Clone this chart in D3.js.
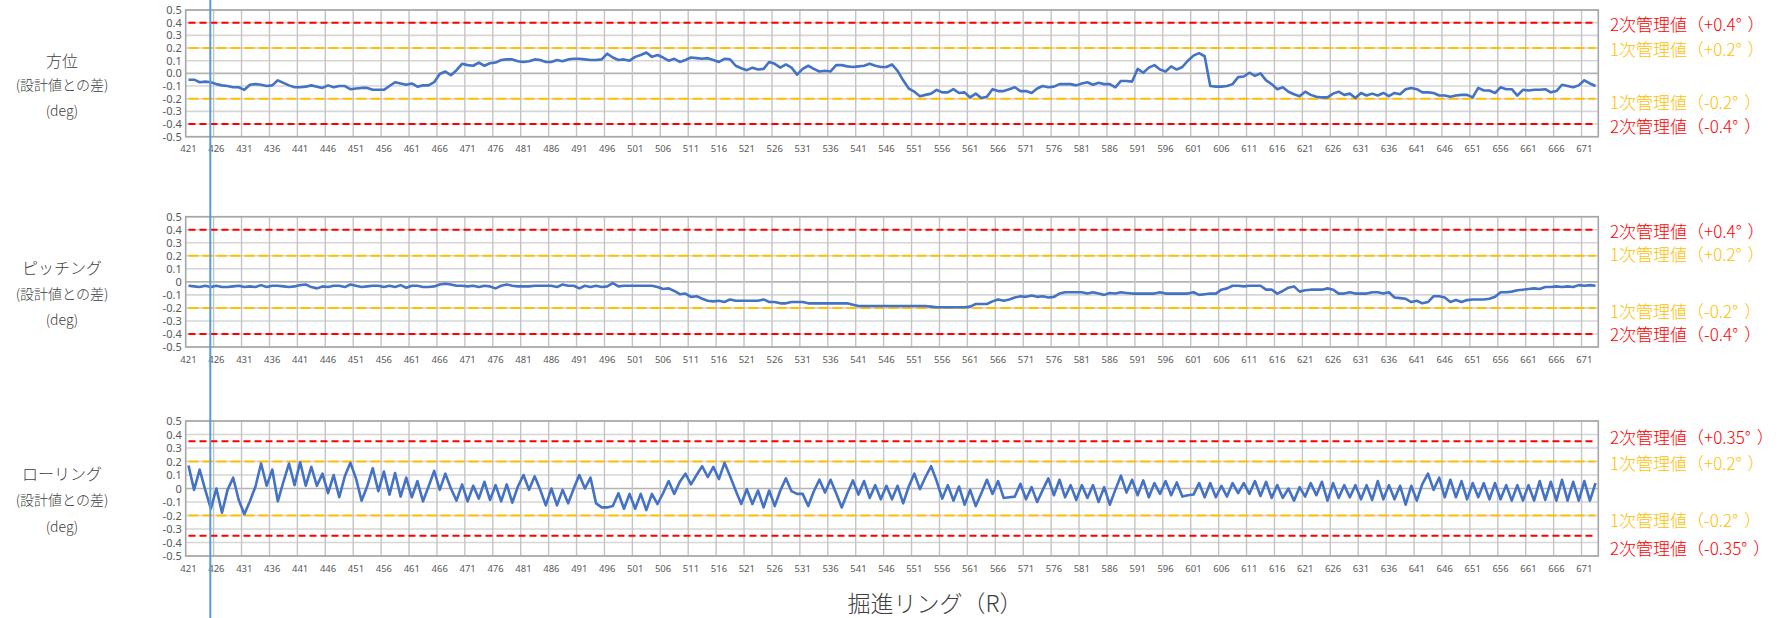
<!DOCTYPE html>
<html>
<head>
<meta charset="utf-8">
<script src="https://cdn.jsdelivr.net/npm/d3@7"></script>
<style>
  body { margin: 0; background: #fff; }
  svg { display: block; }
</style>
</head>
<body>
<div id="chart"></div>
<script>
// rings on the category axis
var rings = d3.range(421, 674);
var tickRings = rings.filter(function (r) { return (r - 421) % 5 === 0; });
var yTicks = [0.5, 0.4, 0.3, 0.2, 0.1, 0, -0.1, -0.2, -0.3, -0.4, -0.5];

// 方位
var azimuth = [
  -0.05,-0.05,-0.07,-0.065,-0.07,-0.085,-0.095,-0.10,-0.11,-0.11,
  -0.13,-0.09,-0.085,-0.09,-0.10,-0.095,-0.055,-0.075,-0.095,-0.11,
  -0.11,-0.105,-0.095,-0.105,-0.115,-0.095,-0.11,-0.10,-0.10,-0.125,
  -0.12,-0.115,-0.115,-0.13,-0.13,-0.13,-0.10,-0.07,-0.08,-0.09,
  -0.08,-0.105,-0.095,-0.095,-0.07,-0.005,0.015,-0.015,0.025,0.075,
  0.065,0.06,0.085,0.06,0.08,0.085,0.105,0.11,0.11,0.095,
  0.09,0.095,0.11,0.105,0.09,0.09,0.105,0.095,0.11,0.115,
  0.115,0.11,0.105,0.105,0.11,0.155,0.125,0.105,0.11,0.10,
  0.13,0.145,0.165,0.13,0.145,0.125,0.10,0.115,0.09,0.105,
  0.125,0.12,0.115,0.12,0.105,0.09,0.115,0.11,0.06,0.04,
  0.025,0.045,0.03,0.035,0.09,0.075,0.045,0.07,0.045,-0.01,
  0.035,0.06,0.035,0.015,0.02,0.015,0.065,0.065,0.055,0.05,
  0.055,0.06,0.075,0.06,0.05,0.05,0.07,0.02,-0.055,-0.12,
  -0.145,-0.18,-0.17,-0.16,-0.13,-0.15,-0.15,-0.125,-0.155,-0.15,
  -0.19,-0.16,-0.195,-0.185,-0.125,-0.14,-0.14,-0.125,-0.11,-0.14,
  -0.14,-0.155,-0.12,-0.10,-0.11,-0.105,-0.085,-0.085,-0.085,-0.095,
  -0.08,-0.07,-0.09,-0.075,-0.085,-0.085,-0.11,-0.06,-0.06,-0.065,
  0.035,0.005,0.045,0.065,0.03,0.015,0.055,0.03,0.05,0.10,
  0.14,0.16,0.135,-0.10,-0.105,-0.105,-0.10,-0.085,-0.03,-0.025,
  0.005,-0.02,0.0,-0.055,-0.085,-0.125,-0.11,-0.145,-0.165,-0.18,
  -0.145,-0.17,-0.185,-0.19,-0.19,-0.16,-0.145,-0.17,-0.16,-0.195,
  -0.155,-0.175,-0.16,-0.175,-0.155,-0.18,-0.155,-0.165,-0.125,-0.115,
  -0.125,-0.15,-0.15,-0.155,-0.175,-0.175,-0.185,-0.175,-0.17,-0.17,
  -0.19,-0.115,-0.135,-0.135,-0.155,-0.11,-0.125,-0.125,-0.175,-0.13,
  -0.135,-0.13,-0.13,-0.125,-0.15,-0.14,-0.09,-0.10,-0.11,-0.095,
  -0.055,-0.08,-0.10
];

// ピッチング
var pitching = [
  -0.03,-0.035,-0.04,-0.03,-0.04,-0.03,-0.04,-0.04,-0.035,-0.03,
  -0.04,-0.035,-0.04,-0.025,-0.04,-0.03,-0.03,-0.035,-0.04,-0.035,
  -0.025,-0.02,-0.04,-0.05,-0.035,-0.04,-0.03,-0.03,-0.04,-0.02,
  -0.03,-0.04,-0.035,-0.03,-0.03,-0.04,-0.03,-0.04,-0.025,-0.045,
  -0.03,-0.03,-0.04,-0.04,-0.035,-0.02,-0.015,-0.02,-0.03,-0.03,
  -0.035,-0.03,-0.04,-0.03,-0.035,-0.05,-0.03,-0.02,-0.03,-0.035,
  -0.035,-0.035,-0.03,-0.03,-0.03,-0.03,-0.04,-0.02,-0.03,-0.03,
  -0.05,-0.03,-0.04,-0.03,-0.04,-0.035,-0.01,-0.035,-0.03,-0.03,
  -0.03,-0.03,-0.03,-0.03,-0.04,-0.055,-0.05,-0.07,-0.095,-0.09,
  -0.115,-0.11,-0.13,-0.145,-0.15,-0.145,-0.155,-0.135,-0.145,-0.145,
  -0.145,-0.145,-0.145,-0.135,-0.155,-0.155,-0.165,-0.165,-0.155,-0.155,
  -0.155,-0.165,-0.165,-0.165,-0.165,-0.165,-0.165,-0.165,-0.165,-0.175,
  -0.185,-0.185,-0.185,-0.185,-0.185,-0.185,-0.185,-0.185,-0.185,-0.185,
  -0.185,-0.185,-0.185,-0.19,-0.195,-0.195,-0.195,-0.195,-0.195,-0.195,
  -0.19,-0.17,-0.17,-0.17,-0.15,-0.135,-0.145,-0.135,-0.12,-0.11,
  -0.115,-0.105,-0.115,-0.11,-0.12,-0.115,-0.09,-0.08,-0.08,-0.08,
  -0.08,-0.09,-0.08,-0.09,-0.10,-0.085,-0.09,-0.08,-0.085,-0.09,
  -0.09,-0.09,-0.09,-0.09,-0.08,-0.09,-0.09,-0.09,-0.09,-0.09,
  -0.08,-0.10,-0.095,-0.09,-0.09,-0.06,-0.05,-0.03,-0.03,-0.035,
  -0.03,-0.03,-0.03,-0.06,-0.06,-0.09,-0.07,-0.045,-0.035,-0.075,
  -0.065,-0.06,-0.06,-0.06,-0.05,-0.06,-0.09,-0.09,-0.08,-0.09,
  -0.09,-0.09,-0.08,-0.08,-0.09,-0.08,-0.12,-0.125,-0.13,-0.155,
  -0.145,-0.165,-0.155,-0.11,-0.11,-0.12,-0.155,-0.14,-0.155,-0.14,
  -0.135,-0.135,-0.135,-0.13,-0.115,-0.08,-0.08,-0.075,-0.065,-0.06,
  -0.055,-0.05,-0.055,-0.04,-0.04,-0.035,-0.04,-0.035,-0.04,-0.025,
  -0.03,-0.025,-0.03
];

// ローリング
var rolling = [
  0.17,-0.01,0.14,-0.01,-0.15,0.0,-0.18,-0.01,0.08,-0.085,
  -0.19,-0.095,0.015,0.185,0.02,0.14,-0.095,0.05,0.185,0.025,
  0.195,0.02,0.16,0.02,0.11,-0.035,0.10,-0.065,0.09,0.19,
  0.075,-0.09,0.015,0.15,-0.02,0.125,-0.045,0.115,-0.06,0.08,
  -0.065,0.055,-0.095,0.015,0.13,-0.01,0.11,0.0,-0.09,0.03,
  -0.095,0.02,-0.075,0.05,-0.085,0.025,-0.095,0.03,-0.105,0.015,
  0.10,-0.01,0.09,-0.01,-0.125,0.0,-0.125,-0.01,-0.11,0.0,
  0.10,0.0,0.08,-0.11,-0.14,-0.14,-0.13,-0.035,-0.15,-0.04,
  -0.15,-0.04,-0.16,-0.04,-0.115,-0.035,0.055,-0.04,0.05,0.11,
  0.03,0.10,0.165,0.085,0.16,0.07,0.19,0.09,-0.015,-0.115,
  -0.005,-0.115,-0.015,-0.14,-0.015,-0.13,-0.015,0.075,-0.02,-0.04,
  -0.04,-0.13,-0.02,0.065,-0.03,0.065,-0.035,-0.14,-0.035,0.06,
  -0.045,0.055,-0.07,0.025,-0.08,0.02,-0.08,0.02,-0.11,0.015,
  0.11,-0.005,0.085,0.165,0.055,-0.075,0.025,-0.09,0.015,-0.12,
  -0.01,-0.13,-0.035,0.065,-0.04,0.055,-0.07,-0.065,-0.06,0.035,
  -0.08,0.01,-0.10,-0.01,0.075,-0.05,0.065,-0.065,0.025,-0.085,
  0.025,-0.07,0.025,-0.10,0.01,-0.12,-0.01,0.095,-0.03,0.065,
  -0.05,0.06,-0.065,0.04,-0.04,0.055,-0.05,0.045,-0.06,-0.05,
  -0.045,0.04,-0.065,0.04,-0.065,0.02,-0.06,0.04,-0.035,0.04,
  -0.04,0.055,-0.055,0.05,-0.07,0.025,-0.07,0.0,-0.09,0.01,
  -0.06,0.04,-0.05,0.05,-0.09,0.04,-0.07,0.025,-0.065,0.025,
  -0.08,0.025,-0.085,0.055,-0.08,0.025,-0.08,0.02,-0.12,0.02,
  -0.09,0.035,0.11,-0.01,0.08,-0.065,0.065,-0.065,0.055,-0.08,
  0.04,-0.065,0.04,-0.08,0.04,-0.08,0.025,-0.09,0.025,-0.09,
  0.025,-0.09,0.055,-0.085,0.05,-0.09,0.065,-0.09,0.05,-0.09,
  0.055,-0.09,0.04
];

// control limits (2次 / 1次) per chart
var limitsAzimuth = [0.4, 0.2, -0.2, -0.4];
var limitsPitching = [0.4, 0.2, -0.2, -0.4];
var limitsRolling = [0.35, 0.2, -0.2, -0.35];
var limitKinds = ['2次', '1次', '1次', '2次'];

var titles = [
  ['方位', '(設計値との差)', '(deg)'],
  ['ピッチング', '(設計値との差)', '(deg)'],
  ['ローリング', '(設計値との差)', '(deg)']
];
var xTitle = '掘進リング（R）';

var W = 1782, H = 618;
var left = 185.7, right = 1598.3;
var red = '#FF0000', amber = '#FFC000', blue = '#4472C4';

var panels = [
  { values: azimuth, limits: limitsAzimuth, title: titles[0], top: 10, bottom: 136.7,
    titleY: [60, 84, 110], labelY: [23, 48, 101, 125], zero: '0.0' },
  { values: pitching, limits: limitsPitching, title: titles[1], top: 216.7, bottom: 347,
    titleY: [267, 293, 319], labelY: [230, 253, 310, 333], zero: '0' },
  { values: rolling, limits: limitsRolling, title: titles[2], top: 421, bottom: 556,
    titleY: [473, 499, 526], labelY: [436, 462, 519, 547], zero: '0' }
];

var svg = d3.select('#chart').append('svg')
  .attr('width', W)
  .attr('height', H);

var xScale = d3.scaleBand()
  .domain(rings)
  .range([left, right])
  .padding(0);

function xPos(r) { return xScale(r) + xScale.bandwidth() / 2; }

function fmt(p, d) {
  if (d === 0) return p.zero;
  return d.toFixed(1);
}

function limitText(kind, v) {
  var s = (v > 0 ? '+' : '-') + Math.abs(v);
  return kind + '管理値（' + s + '°';
}

panels.forEach(function (p) {
  var yScale = d3.scaleLinear()
    .domain([-0.5, 0.5])
    .range([p.bottom, p.top]);

  var g = svg.append('g');

  // horizontal gridlines
  g.selectAll('line.hgrid').data(yTicks)
    .enter().append('line')
    .attr('x1', left).attr('x2', right)
    .attr('y1', function (d) { return yScale(d); })
    .attr('y2', function (d) { return yScale(d); })
    .style('stroke', function (d) { return d === 0 ? '#B4B4B4' : '#D6D6D6'; })
    .style('stroke-width', 1.6);

  // vertical gridlines every 5 rings (on band boundaries)
  g.selectAll('line.vgrid').data(tickRings.slice(1))
    .enter().append('line')
    .attr('x1', function (r) { return xScale(r); })
    .attr('x2', function (r) { return xScale(r); })
    .attr('y1', p.top).attr('y2', p.bottom)
    .style('stroke', '#C4C4C4')
    .style('stroke-width', 1.4);

  // frame
  g.append('rect')
    .attr('x', left).attr('y', p.top)
    .attr('width', right - left).attr('height', p.bottom - p.top)
    .style('fill', 'none')
    .style('stroke', '#A6A6A6')
    .style('stroke-width', 1.6);

  // y axis labels
  var yAxis = d3.axisLeft(yScale)
    .tickValues(yTicks)
    .tickSize(0)
    .tickPadding(4)
    .tickFormat(function (d) { return fmt(p, d); });
  var ya = g.append('g')
    .attr('transform', 'translate(' + left + ',0)')
    .call(yAxis);
  ya.select('.domain').remove();
  ya.selectAll('text')
    .style('font-family', 'Noto Sans, sans-serif')
    .style('font-size', '11px')
    .style('fill', '#595959');

  // x axis labels
  var xAxis = d3.axisBottom(xScale)
    .tickValues(tickRings)
    .tickSize(0)
    .tickPadding(9);
  var xa = g.append('g')
    .attr('transform', 'translate(0,' + p.bottom + ')')
    .call(xAxis);
  xa.select('.domain').remove();
  xa.selectAll('text')
    .style('font-family', 'Noto Sans, sans-serif')
    .style('font-size', '9.5px')
    .style('fill', '#595959');

  // control limit lines
  var limLine = function (v) {
    return d3.line()
      .x(function (r) { return xPos(r); })
      .y(function () { return yScale(v); })(rings);
  };
  p.limits.forEach(function (v, i) {
    var second = limitKinds[i] === '2次';
    g.append('path')
      .attr('d', limLine(v))
      .style('fill', 'none')
      .style('stroke', second ? red : amber)
      .style('stroke-width', 2)
      .style('stroke-dasharray', second ? '7,4' : '10,4');

    var t = g.append('text')
      .attr('x', 1610)
      .attr('y', p.labelY[i])
      .attr('dominant-baseline', 'central')
      .style('font-family', 'Noto Sans CJK JP, sans-serif')
      .style('font-size', '17px')
      .style('font-weight', 300)
      .style('fill', second ? red : amber);
    t.append('tspan').text(limitText(limitKinds[i], v));
    t.append('tspan').attr('dx', 6).text('）');
  });

  // data line
  var line = d3.line()
    .x(function (d, i) { return xPos(rings[i]); })
    .y(function (d) { return yScale(d); });
  g.append('path')
    .datum(p.values)
    .attr('d', line)
    .style('fill', 'none')
    .style('stroke', blue)
    .style('stroke-width', 2.6)
    .style('stroke-linejoin', 'round');

  // left titles
  g.selectAll('text.ttl').data(p.title)
    .enter().append('text')
    .attr('x', 62)
    .attr('y', function (d, i) { return p.titleY[i]; })
    .attr('text-anchor', 'middle')
    .attr('dominant-baseline', 'central')
    .style('font-family', 'Noto Sans CJK JP, sans-serif')
    .style('font-size', function (d, i) { return i === 0 ? '16px' : '14px'; })
    .style('font-weight', 300)
    .style('fill', '#404040')
    .text(function (d) { return d; });
});

// axis title
svg.append('text')
  .attr('x', 935)
  .attr('y', 602)
  .attr('text-anchor', 'middle')
  .attr('dominant-baseline', 'central')
  .style('font-family', 'Noto Sans CJK JP, sans-serif')
  .style('font-size', '23px')
  .style('font-weight', 300)
  .style('fill', '#404040')
  .text(xTitle);

// marker line
svg.append('line')
  .attr('x1', 210.3).attr('x2', 210.3)
  .attr('y1', 0).attr('y2', H)
  .style('stroke', '#5B9BD5')
  .style('stroke-width', 2);
</script>
</body>
</html>
